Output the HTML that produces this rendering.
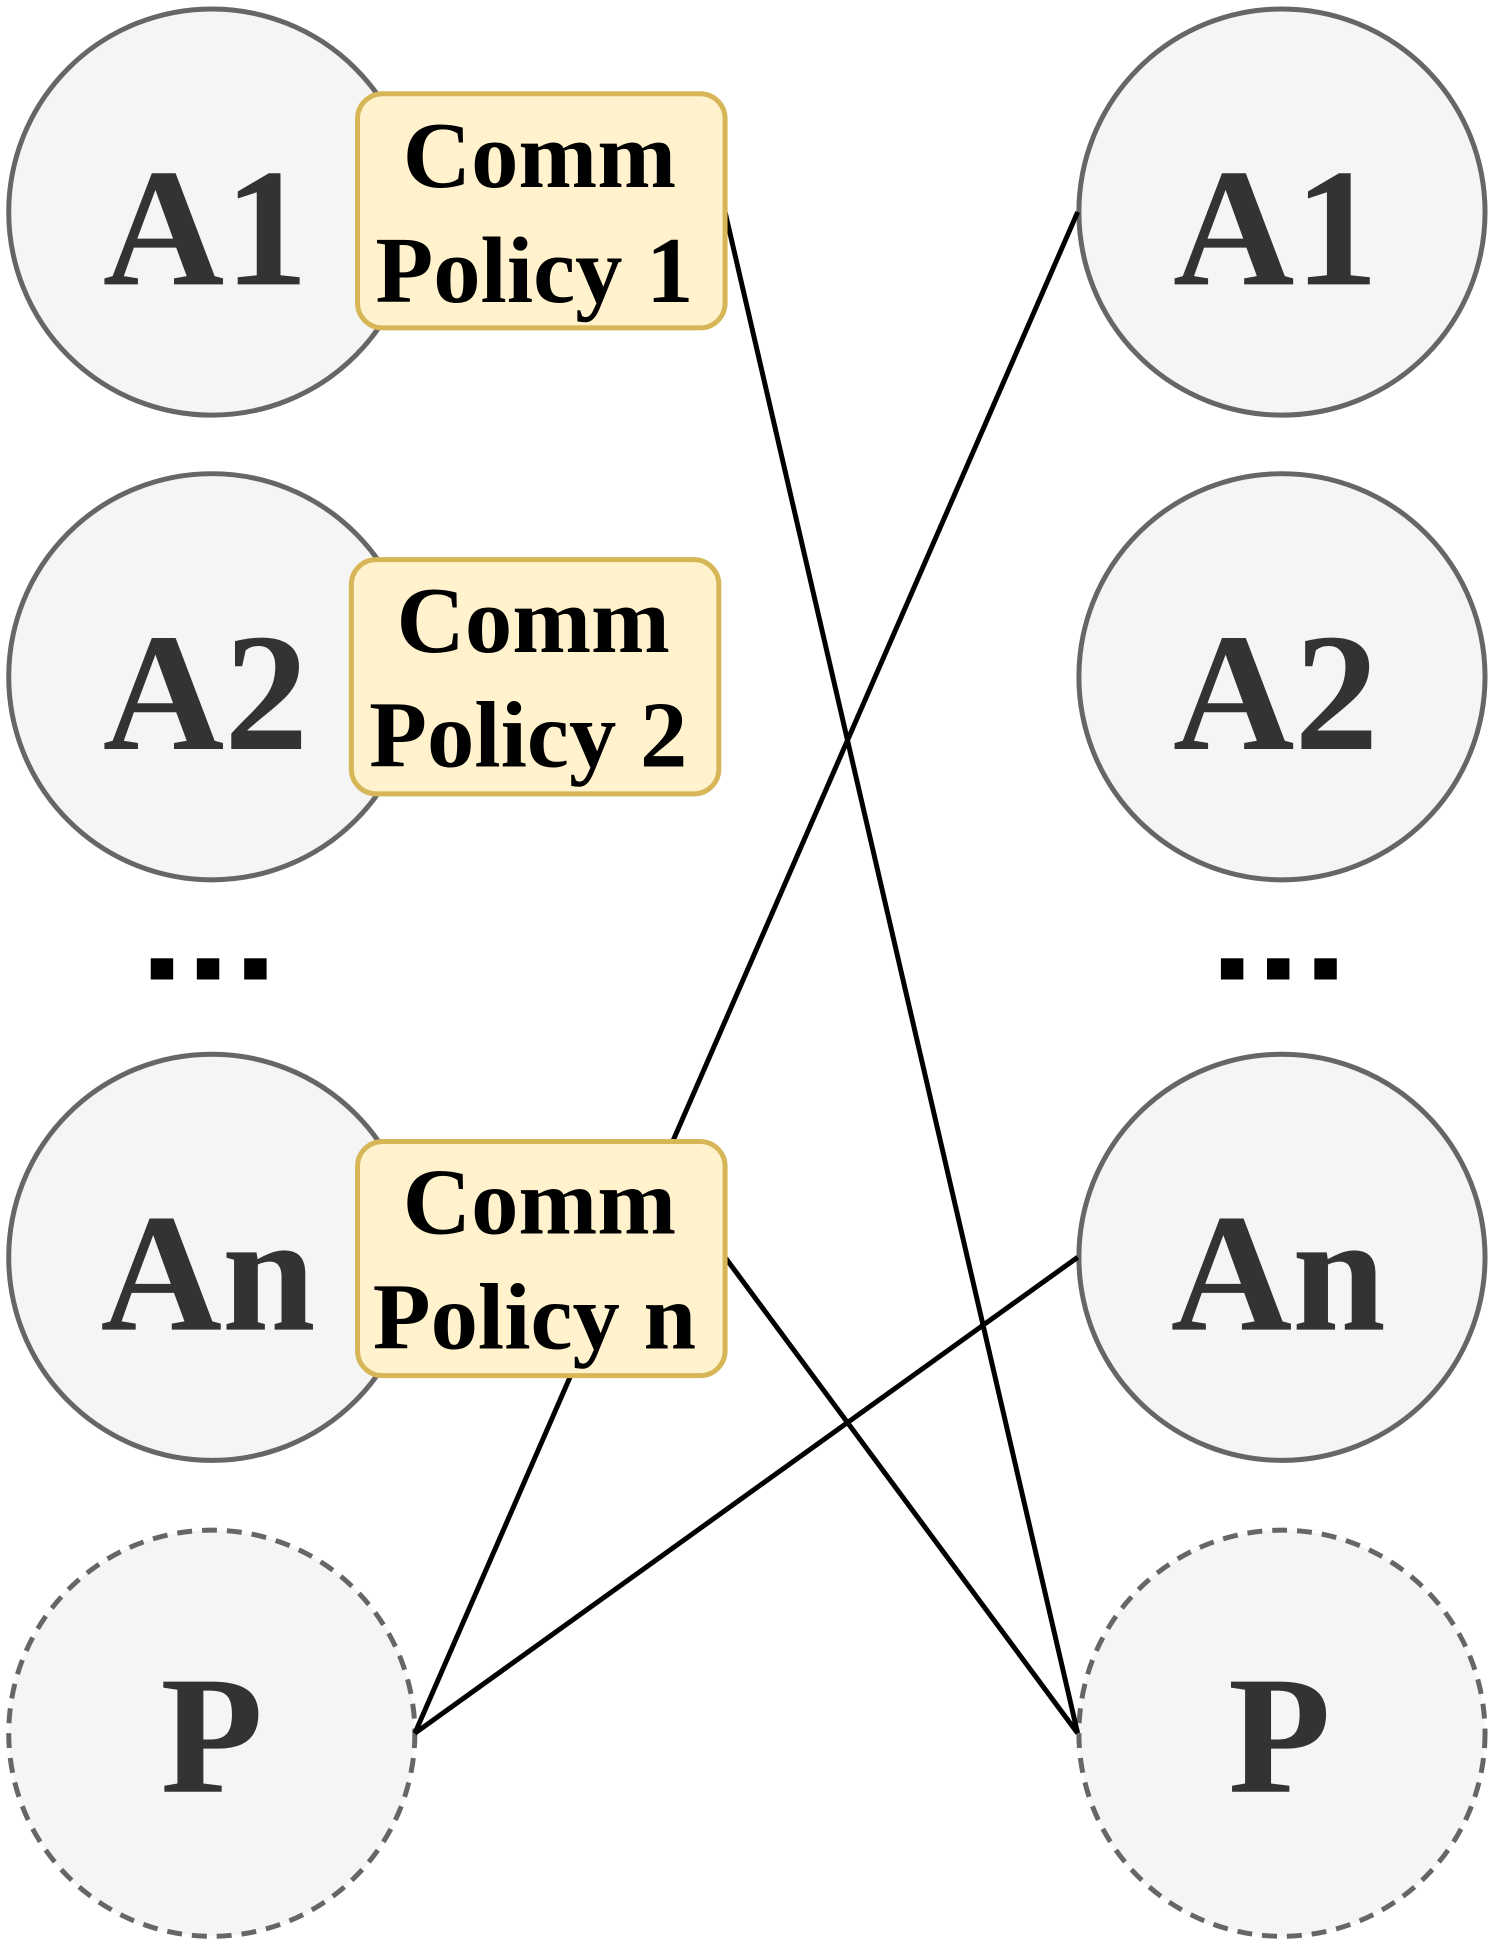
<!DOCTYPE html>
<html><head><meta charset="utf-8"><style>html,body{margin:0;padding:0;background:#fff}svg{display:block}</style></head>
<body>
<svg width="1495" height="1954" viewBox="0 0 1200 1568" xmlns="http://www.w3.org/2000/svg">
<g fill="#f5f5f5" stroke="#666" stroke-width="4">
<circle cx="170" cy="170" r="163"/>
<circle cx="170" cy="543" r="163"/>
<circle cx="170" cy="1009" r="163"/>
<circle cx="170" cy="1391" r="163" stroke-dasharray="12 8"/>
<circle cx="1029" cy="170" r="163"/>
<circle cx="1029" cy="543" r="163"/>
<circle cx="1029" cy="1009" r="163"/>
<circle cx="1029" cy="1391" r="163" stroke-dasharray="12 8"/>
</g>
<g stroke="#000" stroke-width="4" fill="none">
<line x1="582" y1="170" x2="865" y2="1391"/>
<line x1="865" y1="170" x2="333" y2="1391"/>
<line x1="582" y1="1009" x2="865" y2="1391"/>
<line x1="865" y1="1009" x2="333" y2="1391"/>
</g>
<g fill="#fff2cc" stroke="#d6b656" stroke-width="4">
<rect x="287" y="75" width="295" height="188" rx="20"/>
<rect x="282" y="449" width="295" height="188" rx="20"/>
<rect x="287" y="916" width="295" height="188" rx="20"/>
</g>
<g font-family="Liberation Serif, serif" font-weight="bold" text-anchor="middle">
<g font-size="76" fill="#000">
<text x="433" y="150">Comm</text><text x="429" y="242">Policy 1</text>
<text x="428" y="523">Comm</text><text x="424" y="615">Policy 2</text>
<text x="433" y="990">Comm</text><text x="429" y="1082">Policy n</text>
</g>
<g font-size="135" fill="#333">
<text x="165" y="228">A1</text><text x="165" y="601">A2</text><text x="167" y="1067">An</text><text x="170" y="1438">P</text>
<text x="1024" y="228">A1</text><text x="1024" y="601">A2</text><text x="1026" y="1067">An</text><text x="1027" y="1438">P</text>
</g>
</g>
<g fill="#000">
<rect x="121" y="769" width="18" height="17"/><rect x="158" y="769" width="18" height="17"/><rect x="196" y="769" width="18" height="17"/>
<rect x="980" y="769" width="18" height="17"/><rect x="1017" y="769" width="18" height="17"/><rect x="1055" y="769" width="18" height="17"/>
</g>
</svg>
</body></html>
